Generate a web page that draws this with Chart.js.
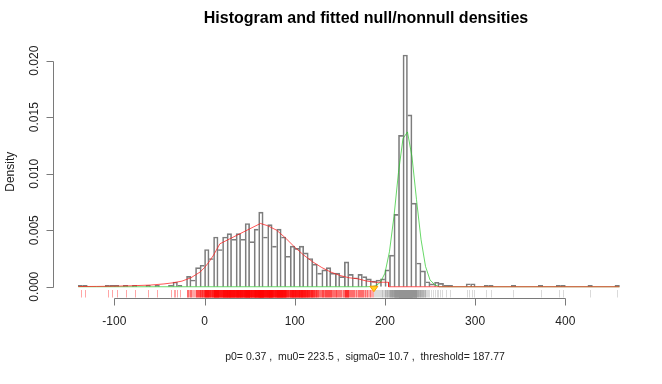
<!DOCTYPE html>
<html>
<head>
<meta charset="utf-8">
<script src="https://cdn.jsdelivr.net/npm/chart.js@4/dist/chart.umd.min.js"></script>
<style>
  html, body { margin: 0; padding: 0; background: #fff; }
  canvas { display: block; }
</style>
</head>
<body>
<canvas id="hist" width="662" height="384"></canvas>
<script>
// histogram bins: 5 wide, first one starts at -140
const binStart = -140;
const binWidth = 5;
const density = [
  0.00012, 0.00012, 0, 0, 0, 0, 0.00012, 0.00012, 0.00012, 0,        // -140 .. -95
  0.00012, 0, 0.00012, 0, 0, 0.00012, 0, 0.00012, 0, 0,              // -90 .. -45
  0.00012, 0.00042, 0.00012, 0, 0.00092, 0.0006, 0.0017, 0.0019,     // -40 .. -5
  0.0033, 0.0025, 0.0044, 0.0033, 0.0044, 0.0047, 0.0042, 0.0047, 0.0042, 0.0056,  // 0 .. 45
  0.0040, 0.0051, 0.0066, 0.0044, 0.0055, 0.0036, 0.0051, 0.0044, 0.0027, 0.0036,  // 50 .. 95
  0.0034, 0.0036, 0.0030, 0.0025, 0.0020, 0.0012, 0.0015, 0.0017, 0.0012, 0.0012,  // 100 .. 145
  0.0009, 0.0022, 0.0011, 0.0008, 0.0011, 0.0009, 0.0007, 0.0005, 0.0006, 0.0007,  // 150 .. 195
  0.0015, 0.0028, 0.0064, 0.0134, 0.0205, 0.0152, 0.0074, 0.0021, 0.0014, 0.00044, // 200 .. 245
  0.00025, 0.0004, 0.0003, 0.00012, 0.00012, 0, 0, 0, 0.00027, 0.00027,           // 250 .. 295
  0, 0, 0.00012, 0.00012, 0, 0, 0, 0, 0.00012, 0,                    // 300 .. 345
  0, 0, 0, 0, 0.00012, 0, 0, 0, 0.00012, 0.00012,                    // 350 .. 395
  0, 0, 0, 0, 0, 0.00012, 0, 0, 0, 0,                                // 400 .. 445
  0, 0.00012                                                         // 450 .. 455
];
const nObs = 1660;
const threshold = 187.77;

// fitted nonnull density (red) and null density (green)
const nonnullX = [-140, -120, -100, -80, -60, -45, -35, -25, -15, -5, 0, 5, 10, 17, 62, 70, 80, 90, 100, 110, 120, 130, 140, 150, 160, 170, 180, 190, 204, 204, 460];
const nonnullY = [0.00002, 0.00003, 0.00005, 0.00009, 0.00015, 0.00025, 0.00035, 0.0005, 0.0008, 0.0013, 0.0017, 0.0022, 0.0028, 0.0038, 0.0056, 0.0054, 0.0050, 0.0043, 0.0035, 0.0028, 0.0022, 0.0017, 0.0013, 0.0010, 0.0008, 0.0007, 0.0005, 0.0004, 0.0004, 0, 0];
const nullX = [-140, 180, 185, 190, 195, 200, 205, 210, 215, 220, 225, 230, 235, 240, 245, 250, 255, 260, 460];
const nullY = [0, 0, 0.00002, 0.0001, 0.0004, 0.0012, 0.0031, 0.0062, 0.0101, 0.0131, 0.0137, 0.0115, 0.0077, 0.0042, 0.0018, 0.0006, 0.0002, 0, 0];

const xTicks = [-100, 0, 100, 200, 300, 400];
const yTicks = [0, 0.005, 0.010, 0.015, 0.020];
const yTickLabels = ['0.000', '0.005', '0.010', '0.015', '0.020'];
const mainTitle = 'Histogram and fitted null/nonnull densities';
const subTitle = 'p0= 0.37 ,  mu0= 223.5 ,  sigma0= 10.7 ,  threshold= 187.77';
const yTitle = 'Density';

const FONT = '"Liberation Sans", Arial, Helvetica, sans-serif';

const bars = density.map((d, i) => ({ x: binStart + (i + 0.5) * binWidth, y: d > 0 ? d : null }));
const pairs = (xs, ys) => xs.map((x, i) => ({ x: x, y: ys[i] }));

// shared edges between neighbouring bins are drawn once, by the taller bin
function binBorder(c) {
  const i = c.dataIndex;
  const d = density[i] || 0;
  const prev = density[i - 1] || 0;
  const next = density[i + 1] || 0;
  return { top: 1, bottom: 0, left: prev <= d ? 1 : 0, right: next < d ? 1 : 0 };
}

// R style axes, rug and titles drawn with the chart's own scales
const rDecor = {
  id: 'rDecor',
  beforeDatasetsDraw(chart) {
    const ctx = chart.ctx;
    const xs = chart.scales.x;
    const area = chart.chartArea;
    const rugBottom = area.bottom;
    const rugTop = area.bottom - 7.5;
    ctx.save();
    ctx.lineWidth = 1;
    density.forEach((d, i) => {
      if (!(d > 0)) return;
      const n = Math.max(1, Math.round(d * binWidth * nObs));
      const left = binStart + i * binWidth;
      for (let k = 0; k < n; k++) {
        const v = left + (k + 0.5) * binWidth / n;
        const px = Math.round(xs.getPixelForValue(v)) + 0.5;
        ctx.strokeStyle = v < threshold ? 'rgba(255,0,0,0.35)' : 'rgba(150,150,150,0.35)';
        ctx.beginPath();
        ctx.moveTo(px, rugTop);
        ctx.lineTo(px, rugBottom);
        ctx.stroke();
      }
    });
    ctx.restore();
  },
  afterDatasetsDraw(chart) {
    const ctx = chart.ctx;
    const px = chart.scales.x.getPixelForValue(threshold);
    const py = chart.scales.y.getPixelForValue(0);
    ctx.save();
    ctx.fillStyle = '#ffd21f';
    ctx.strokeStyle = '#ff9c00';
    ctx.lineWidth = 1;
    ctx.beginPath();
    ctx.moveTo(px - 4, py - 0.5);
    ctx.lineTo(px + 4, py - 0.5);
    ctx.lineTo(px, py + 5);
    ctx.closePath();
    ctx.fill();
    ctx.stroke();
    ctx.restore();
  },
  afterDraw(chart) {
    const ctx = chart.ctx;
    const xs = chart.scales.x;
    const ys = chart.scales.y;
    const area = chart.chartArea;
    ctx.save();
    ctx.strokeStyle = '#7a7a7a';
    ctx.lineWidth = 1;
    ctx.fillStyle = '#222';

    // x axis
    const ax = Math.round(area.bottom) + 0.5;
    const x0 = Math.round(xs.getPixelForValue(xTicks[0])) + 0.5;
    const x1 = Math.round(xs.getPixelForValue(xTicks[xTicks.length - 1])) + 0.5;
    ctx.beginPath();
    ctx.moveTo(x0, ax);
    ctx.lineTo(x1, ax);
    xTicks.forEach(t => {
      const p = Math.round(xs.getPixelForValue(t)) + 0.5;
      ctx.moveTo(p, ax);
      ctx.lineTo(p, ax + 7);
    });
    ctx.stroke();
    ctx.font = '12px ' + FONT;
    ctx.textAlign = 'center';
    ctx.textBaseline = 'middle';
    xTicks.forEach(t => ctx.fillText(String(t), xs.getPixelForValue(t), ax + 23));

    // y axis
    const ay = Math.round(area.left) + 0.5;
    const y0 = Math.round(ys.getPixelForValue(yTicks[0])) + 0.5;
    const y1 = Math.round(ys.getPixelForValue(yTicks[yTicks.length - 1])) + 0.5;
    ctx.beginPath();
    ctx.moveTo(ay, y0);
    ctx.lineTo(ay, y1);
    yTicks.forEach(t => {
      const p = Math.round(ys.getPixelForValue(t)) + 0.5;
      ctx.moveTo(ay, p);
      ctx.lineTo(ay - 7, p);
    });
    ctx.stroke();
    yTicks.forEach((t, i) => {
      ctx.save();
      ctx.translate(ay - 19, ys.getPixelForValue(t));
      ctx.rotate(-Math.PI / 2);
      ctx.fillText(yTickLabels[i], 0, 0);
      ctx.restore();
    });

    // axis title and titles
    ctx.save();
    ctx.translate(11, (area.top + area.bottom) / 2);
    ctx.rotate(-Math.PI / 2);
    ctx.fillText(yTitle, 0, 0);
    ctx.restore();

    ctx.fillStyle = '#000';
    ctx.font = 'bold 16px ' + FONT;
    ctx.fillText(mainTitle, 366, 19);
    ctx.fillStyle = '#222';
    ctx.font = '10.5px ' + FONT;
    ctx.fillText(subTitle, 365, 357);
    ctx.restore();
  }
};

new Chart(document.getElementById('hist'), {
  type: 'bar',
  data: {
    datasets: [
      {
        type: 'line',
        label: 'nonnull',
        data: pairs(nonnullX, nonnullY),
        borderColor: 'rgba(255,30,30,0.75)',
        borderWidth: 1,
        pointRadius: 0,
        tension: 0,
        fill: false,
        order: 1
      },
      {
        type: 'line',
        label: 'null',
        data: pairs(nullX, nullY),
        borderColor: 'rgba(40,200,40,0.7)',
        borderWidth: 1,
        pointRadius: 0,
        tension: 0,
        fill: false,
        order: 2
      },
      {
        label: 'histogram',
        data: bars,
        backgroundColor: 'rgba(255,255,255,0)',
        borderColor: '#7d7d7d',
        borderWidth: binBorder,
        borderSkipped: false,
        barPercentage: 1,
        categoryPercentage: 1,
        order: 3
      }
    ]
  },
  options: {
    responsive: false,
    animation: false,
    layout: { padding: { left: 53, right: 20, top: 46, bottom: 86.5 } },
    plugins: {
      legend: { display: false },
      tooltip: { enabled: false },
      title: { display: false }
    },
    scales: {
      x: { type: 'linear', min: -168, max: 485, offset: false, display: false },
      y: { type: 'linear', min: -0.00095, max: 0.0213, offset: false, display: false }
    }
  },
  plugins: [rDecor]
});
</script>
</body>
</html>
